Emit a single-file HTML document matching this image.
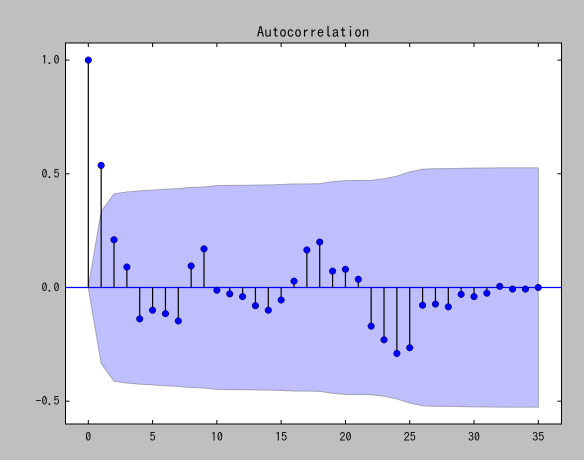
<!DOCTYPE html>
<html><head><meta charset="utf-8"><style>
html,body{margin:0;padding:0;background:#bfbfbf;}
svg{display:block;font-family:"IPAGothic","WenQuanYi Zen Hei",monospace;}
</style></head><body>
<svg id="chart" width="584" height="460" xmlns="http://www.w3.org/2000/svg">
<rect x="0" y="0" width="584" height="460" fill="#bfbfbf"/>
<text x="313" y="37" font-size="15" text-anchor="middle" fill="#000">Autocorrelation</text>
<rect x="65.5" y="43" width="496" height="381" fill="#fff"/>
<g id="band"></g>
<g id="axes"></g>
<g id="marks"></g>
<rect x="65.5" y="43" width="496" height="381" fill="none" stroke="#000" stroke-width="1"/>
</svg>
<script>
const lags = [0,1,2,3,4,5,6,7,8,9,10,11,12,13,14,15,16,17,18,19,20,21,22,23,24,25,26,27,28,29,30,31,32,33,34,35];
const acfValues = [1.0,0.537,0.21,0.09,-0.138,-0.1,-0.115,-0.147,0.095,0.17,-0.012,-0.028,-0.04,-0.08,-0.1,-0.055,0.028,0.165,0.2,0.072,0.08,0.036,-0.17,-0.23,-0.29,-0.265,-0.078,-0.073,-0.085,-0.03,-0.04,-0.025,0.005,-0.007,-0.007,0.0];
const confUpper = [0,0.334,0.412,0.42,0.425,0.428,0.432,0.435,0.44,0.442,0.448,0.449,0.449,0.45,0.451,0.453,0.455,0.455,0.457,0.465,0.47,0.471,0.471,0.478,0.49,0.508,0.52,0.522,0.523,0.524,0.525,0.525,0.526,0.526,0.526,0.526];
const xTicks = [0,5,10,15,20,25,30,35];
const yTicks = [-0.5,0.0,0.5,1.0];
const yTickLabels = ["-0.5","0.0","0.5","1.0"];

const NS="http://www.w3.org/2000/svg";
const X0=65.5,X1=561.5,Y0=43,Y1=424;
function xs(v){return 88.3+(v-0)*(538.3-88.3)/35;}
function ys(v){return 287.5-v*227.4;}
function mk(tag,attrs,parent){const e=document.createElementNS(NS,tag);for(const k in attrs)e.setAttribute(k,attrs[k]);parent.appendChild(e);return e;}

const band=document.getElementById('band');
let up=lags.map((l,i)=>xs(l)+','+ys(confUpper[i]));
let lo=lags.slice().reverse().map((l)=>xs(l)+','+ys(-confUpper[l]));
const poly=mk('polygon',{points:up.concat(lo).join(' '),fill:'#bfbfff',stroke:'#a0a0b8','stroke-width':1},band);



const axes=document.getElementById('axes');
xTicks.forEach(t=>{
  const x=xs(t);
  const a=mk('line',{x1:x,x2:x,y1:Y0,y2:Y0+4,stroke:'#000'},axes);
  
  
  const b=mk('line',{x1:x,x2:x,y1:Y1,y2:Y1-4,stroke:'#000'},axes);
  
  
  const tx=mk('text',{x:x,y:Y1+17,'font-size':12,'text-anchor':'middle',fill:'#000'},axes);
  tx.textContent=String(t);
  
  
});
yTicks.forEach((t,i)=>{
  const y=ys(t);
  const a=mk('line',{x1:X0,x2:X0+4,y1:y,y2:y,stroke:'#000'},axes);
  
  
  const b=mk('line',{x1:X1,x2:X1-4,y1:y,y2:y,stroke:'#000'},axes);
  
  
  const tx=mk('text',{x:X0-6,y:y+4,'font-size':12,'text-anchor':'end',fill:'#000'},axes);
  tx.textContent=yTickLabels[i];
  
  
});

const marks=document.getElementById('marks');
const zl=mk('line',{x1:X0,x2:X1,y1:ys(0),y2:ys(0),stroke:'#0000ff','stroke-width':1.2},marks);


lags.forEach((l,i)=>{
  const x=xs(l),y=ys(acfValues[i]);
  const s=mk('line',{x1:x,x2:x,y1:ys(0),y2:y,stroke:'#000','stroke-width':1.2},marks);
  
  
});
lags.forEach((l,i)=>{
  const c=mk('circle',{cx:xs(l),cy:ys(acfValues[i]),r:3.3,fill:'#0000ff',stroke:'#000033','stroke-width':0.5},marks);
  
  
});
</script>
</body></html>
